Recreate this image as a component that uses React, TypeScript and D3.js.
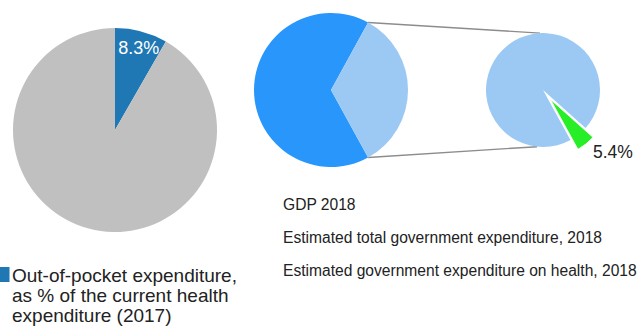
import React from "react";
import * as d3 from "d3";

const W = 644;
const H = 326;

// Left pie: out-of-pocket share of current health expenditure (2017)
const oopCategories = ["Out-of-pocket", "Other"];
const oopValues = [8.3, 91.7];
const oopLabel = "8.3%";

// Middle pie: GDP 2018 split
const gdpCategories = ["Rest of GDP", "Estimated total government expenditure"];
const gdpValues = [66, 34];

// Right pie: government expenditure split
const govCategories = ["Other government expenditure", "Health"];
const govValues = [94.6, 5.4];
const govLabel = "5.4%";

const legendLines = [
  "Out-of-pocket expenditure,",
  "as % of the current health",
  "expenditure (2017)",
];
const keyLines = [
  "GDP 2018",
  "Estimated total government expenditure, 2018",
  "Estimated government expenditure on health, 2018",
];

const FONT = "'Liberation Sans', Arial, sans-serif";

export default function App() {
  // Left pie
  const lc = { x: 115, y: 130, r: 102 };
  const leftArcs = d3.pie<number>().sort(null)(oopValues);
  const leftArc = d3.arc<d3.PieArcDatum<number>>().innerRadius(0).outerRadius(lc.r);
  const leftColors = ["#1f77b4", "#c0c0c0"];

  // Middle pie: government share centred on the right (90deg)
  const mc = { x: 331, y: 90, r: 77 };
  const govFrac = gdpValues[1] / d3.sum(gdpValues);
  const govStart = Math.PI / 2 - govFrac * Math.PI;
  const govEnd = govStart + govFrac * 2 * Math.PI;
  const midArcs = d3
    .pie<number>()
    .sort(null)
    .startAngle(govEnd - 2 * Math.PI)
    .endAngle(govEnd)(gdpValues);
  const midArc = d3.arc<d3.PieArcDatum<number>>().innerRadius(0).outerRadius(mc.r);
  const midColors = ["#2996fc", "#9bc9f4"];

  // Right pie
  const rc = { x: 543, y: 90, r: 57 };
  const rightArcs = d3
    .pie<number>()
    .sort(null)
    .startAngle(govEnd - 2 * Math.PI)
    .endAngle(govEnd)(govValues);
  const rightArc = d3.arc<d3.PieArcDatum<number>>().innerRadius(0).outerRadius(rc.r);
  const rightColors = ["#9bc9f4", "#27ee27"];
  const explode = 12;

  const pt = (c: { x: number; y: number; r: number }, a: number) => [
    c.x + c.r * Math.sin(a),
    c.y - c.r * Math.cos(a),
  ];
  const deg = Math.PI / 180;
  const t1 = pt(mc, govStart);
  const t2 = pt(rc, -3 * deg);
  const b1 = pt(mc, govEnd);
  const b2 = pt(rc, 186 * deg);

  const green = rightArcs[1];
  const gm = (green.startAngle + green.endAngle) / 2;
  const gx = explode * Math.sin(gm);
  const gy = -explode * Math.cos(gm);

  const oopSlice = leftArcs[0];
  const labAng = (oopSlice.startAngle + oopSlice.endAngle) / 2;

  return (
    <svg
      width={W}
      height={H}
      style={{ position: "absolute", left: 0, top: 0, background: "#fff" }}
      fontFamily={FONT}
    >
      <g transform={`translate(${lc.x},${lc.y})`}>
        {leftArcs.map((a, i) => (
          <path key={oopCategories[i]} d={leftArc(a) || ""} fill={leftColors[i]} />
        ))}
        <text
          x={lc.r * 0.83 * Math.sin(labAng) + 2}
          y={-lc.r * 0.83 * Math.cos(labAng)}
          fill="#fff"
          fontSize={18}
          textAnchor="middle"
          dy="0.33em"
        >
          {oopLabel}
        </text>
      </g>

      <line x1={t1[0]} y1={t1[1]} x2={t2[0]} y2={t2[1]} stroke="#8c8c8c" strokeWidth={1.4} />
      <line x1={b1[0]} y1={b1[1]} x2={b2[0]} y2={b2[1]} stroke="#8c8c8c" strokeWidth={1.4} />

      <g transform={`translate(${mc.x},${mc.y})`}>
        {midArcs.map((a, i) => (
          <path key={gdpCategories[i]} d={midArc(a) || ""} fill={midColors[i]} />
        ))}
      </g>

      <g transform={`translate(${rc.x},${rc.y})`}>
        <path d={rightArc(rightArcs[0]) || ""} fill={rightColors[0]} />
        <path
          key={govCategories[1]}
          d={rightArc(green) || ""}
          fill={rightColors[1]}
          stroke="#fff"
          strokeWidth={0.8}
          transform={`translate(${gx},${gy})`}
        />
      </g>
      <text x={593} y={158} fontSize={17.5} fill="#222">
        {govLabel}
      </text>

      {keyLines.map((t, i) => (
        <text key={t} x={283} y={209.5 + i * 33.2} fontSize={15.6} fill="#222">
          {t}
        </text>
      ))}

      <rect x={-5} y={267} width={14.5} height={15} fill="#1f77b4" />
      {legendLines.map((t, i) => (
        <text key={t} x={12} y={282 + i * 20} fontSize={19} fill="#222">
          {t}
        </text>
      ))}
    </svg>
  );
}
